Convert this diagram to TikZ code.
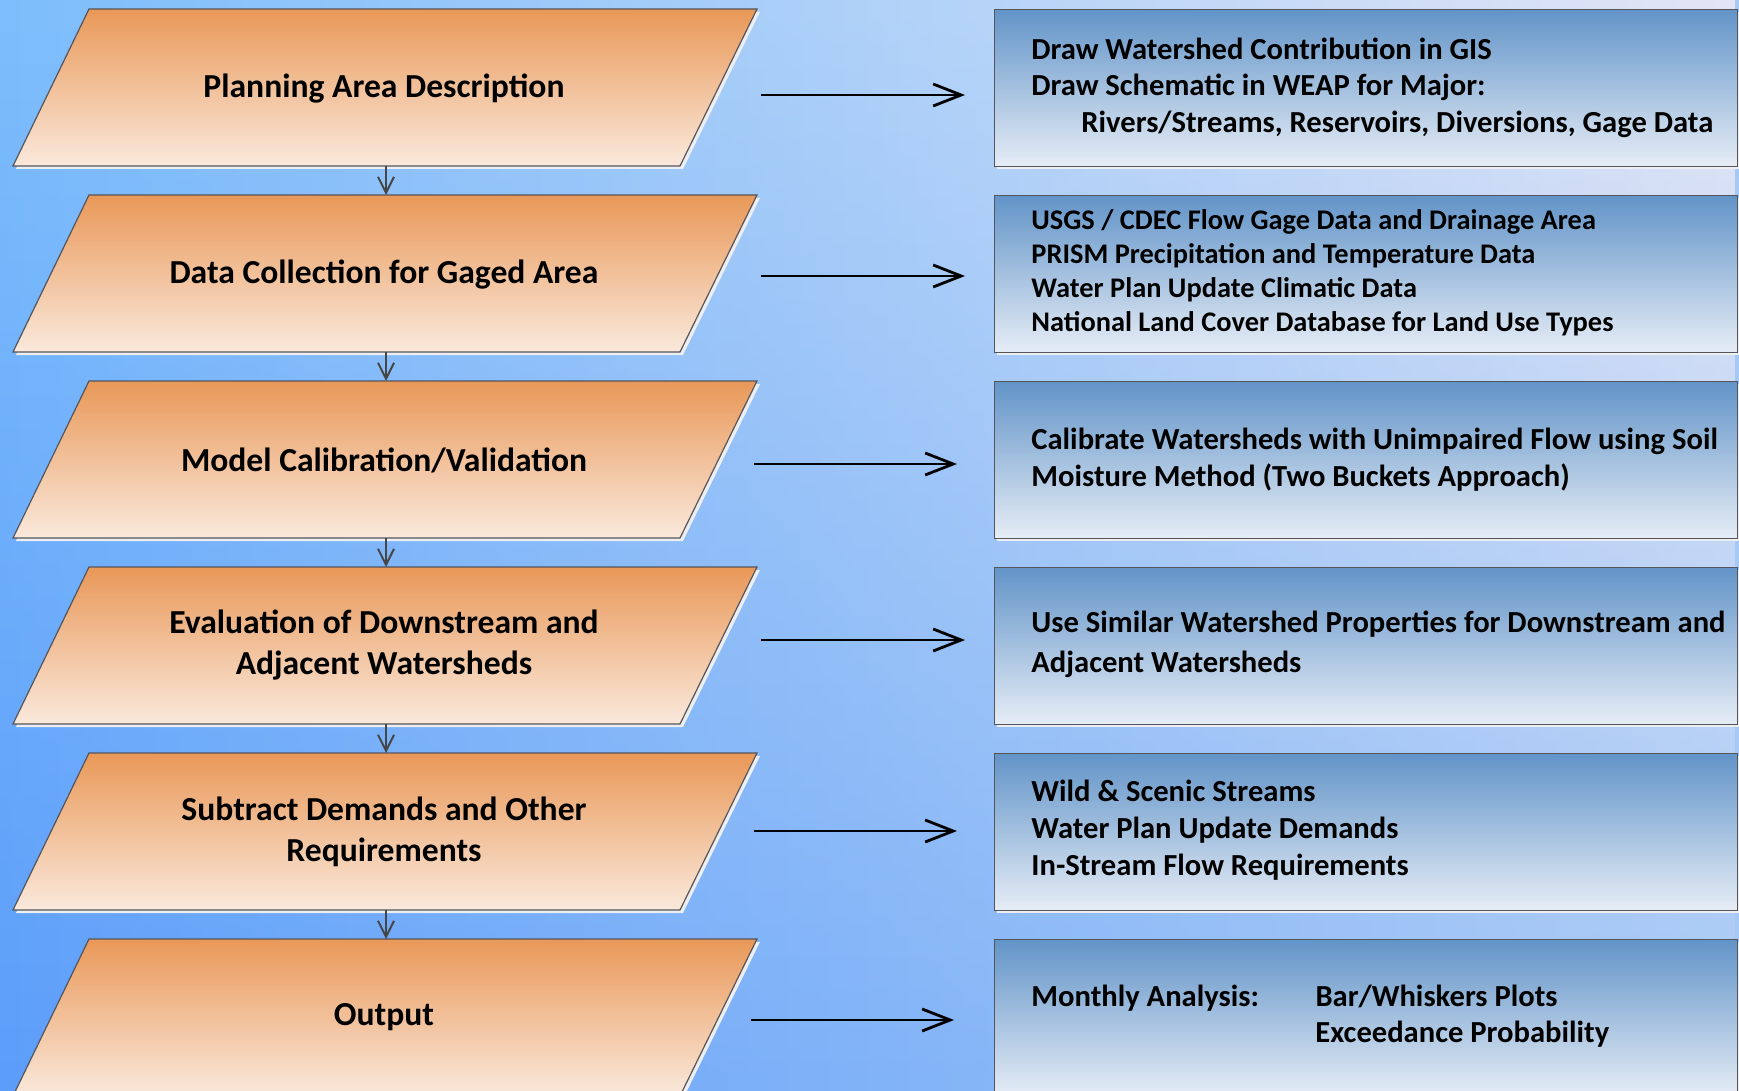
\documentclass[tikz,border=0pt]{standalone}
\usepackage{fontspec}
\setmainfont{Carlito}
\usetikzlibrary{arrows.meta,fadings}
\definecolor{bgUL}{RGB}{125,190,252}
\definecolor{bgUR}{RGB}{228,230,246}
\definecolor{bgLL}{RGB}{92,157,250}
\definecolor{bgLR}{RGB}{165,200,245}
\definecolor{orTop}{RGB}{233,152,88}
\definecolor{orBot}{RGB}{250,233,220}
\definecolor{blTop}{RGB}{98,148,200}
\definecolor{blBot}{RGB}{230,237,246}
\definecolor{edgec}{RGB}{85,85,90}
\definecolor{shadowc}{RGB}{236,238,242}
\definecolor{downc}{RGB}{70,70,70}
\tikzset{
  para/.style={draw=edgec, line width=0.6pt, top color=orTop, bottom color=orBot},
  parashadow/.style={fill=shadowc, draw=none},
  ptext/.style={align=center, inner sep=0pt, font=\bfseries\fontsize{16.8}{20.5}\selectfont},
  rbox/.style={draw=edgec, line width=0.6pt, top color=blTop, bottom color=blBot,
    minimum width=371.5pt, minimum height=78.5pt, inner sep=0pt, anchor=north west},
  rtext/.style={align=left, inner sep=0pt, anchor=west},
  downarrow/.style={draw=downc, line width=1pt, -{Straight Barb[length=8pt,width=8pt,line width=1pt]}},
  flowarrow/.style={draw=black, line width=1.4pt, -{Straight Barb[length=14pt,width=11pt,line width=1.4pt]}},
}
\newcommand{\para}[2]{% #1 = index, #2 = top y
  \path[parashadow] (92,#2+3) -- (760,#2+3) -- (683,#2+160) -- (16,#2+160) -- cycle;
  \path[para] (89,#2) -- (757,#2) -- (680,#2+157) -- (13,#2+157) -- cycle;
  \coordinate (pt#1) at (386,#2);
  \coordinate (pb#1) at (386,#2+157);
}
\begin{document}
\begin{tikzpicture}[x=0.5pt,y=-0.5pt]
\useasboundingbox (0,0) rectangle (1739,1091);
\clip (0,0) rectangle (1739,1091);
\shade[left color=bgLL, right color=bgLR] (0,0) rectangle (1739,1091);
\shade[left color=bgUL, right color=bgUR, path fading=south] (0,0) rectangle (1739,1091);

% left parallelograms
\para{1}{9}
\para{2}{195}
\para{3}{381}
\para{4}{567}
\para{5}{753}
\para{6}{939}

\node[ptext] (p1) at (384,88.5) {Planning Area Description};
\node[ptext] (p2) at (384,274.5) {Data Collection for Gaged Area};
\node[ptext] (p3) at (384,460.5) {Model Calibration/Validation};
\node[ptext] (p4) at (384,645.5) {Evaluation of Downstream and\\Adjacent Watersheds};
\node[ptext] (p5) at (384,831.5) {Subtract Demands and Other\\Requirements};
\node[ptext] (p6) at (384,1017.5) {Output};

% right boxes (shadows)
\foreach \t in {9,195,381,567,753,939}
  \fill[shadowc] (997,\t+3) rectangle (1742,\t+160);

\node[rbox] (r1) at (994,9) {};
\node[rbox] (r2) at (994,195) {};
\node[rbox] (r3) at (994,381) {};
\node[rbox] (r4) at (994,567) {};
\node[rbox] (r5) at (994,753) {};
\node[rbox] (r6) at (994,939) {};

\node[rtext, font=\bfseries\fontsize{15.3}{18.3}\selectfont] (t1) at ([xshift=18.5pt,yshift=0.2pt]r1.west)
  {Draw Watershed Contribution in GIS\\Draw Schematic in WEAP for Major:\\\hspace*{25pt}Rivers/Streams, Reservoirs, Diversions, Gage Data};
\node[rtext, font=\bfseries\fontsize{14.2}{17}\selectfont] (t2) at ([xshift=18.5pt,yshift=0.5pt]r2.west)
  {USGS / CDEC Flow Gage Data and Drainage Area\\PRISM Precipitation and Temperature Data\\Water Plan Update Climatic Data\\National Land Cover Database for Land Use Types};
\node[rtext, font=\bfseries\fontsize{15.3}{18.5}\selectfont] (t3) at ([xshift=18.5pt,yshift=0pt]r3.west)
  {Calibrate Watersheds with Unimpaired Flow using Soil\\Moisture Method (Two Buckets Approach)};
\node[rtext, font=\bfseries\fontsize{15.3}{20}\selectfont] (t4) at ([xshift=18.5pt,yshift=1pt]r4.west)
  {Use Similar Watershed Properties for Downstream and\\Adjacent Watersheds};
\node[rtext, font=\bfseries\fontsize{15.3}{18.3}\selectfont] (t5) at ([xshift=18.5pt,yshift=1pt]r5.west)
  {Wild \& Scenic Streams\\Water Plan Update Demands\\In-Stream Flow Requirements};
\node[rtext, font=\bfseries\fontsize{15.3}{18}\selectfont] (t6) at ([xshift=18.5pt,yshift=1pt]r6.west)
  {\makebox[142pt][l]{Monthly Analysis:}Bar/Whiskers Plots\\\hspace*{142pt}Exceedance Probability};

% down arrows
\foreach \i/\j in {1/2,2/3,3/4,4/5,5/6}
  \draw[downarrow] (pb\i) -- (pt\j);

% horizontal arrows
\coordinate (a1s) at (761,95);   \coordinate (a1e) at (965,95);
\coordinate (a2s) at (761,276);  \coordinate (a2e) at (965,276);
\coordinate (a3s) at (754,464);  \coordinate (a3e) at (957,464);
\coordinate (a4s) at (761,640);  \coordinate (a4e) at (965,640);
\coordinate (a5s) at (754,831);  \coordinate (a5e) at (957,831);
\coordinate (a6s) at (751,1020); \coordinate (a6e) at (954,1020);
\foreach \i in {1,...,6}
  \draw[flowarrow] (a\i s) -- (a\i e);
\end{tikzpicture}
\end{document}
